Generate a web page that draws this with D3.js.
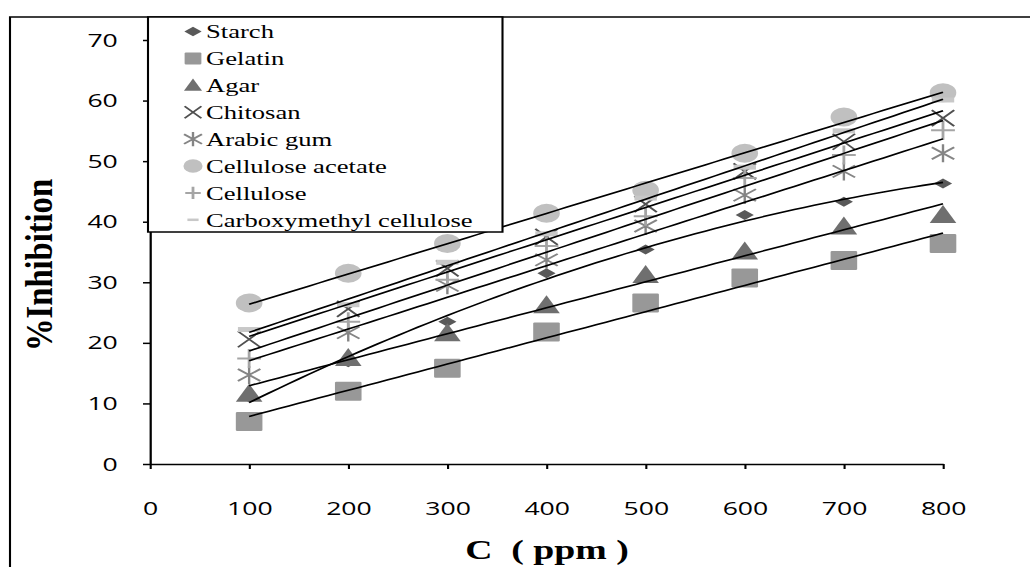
<!DOCTYPE html>
<html>
<head>
<meta charset="utf-8">
<script src="https://cdn.jsdelivr.net/npm/d3@7"></script>
<style>
  html, body { margin: 0; padding: 0; background: #fff; }
  svg { display: block; }
</style>
</head>
<body>
<svg id="chart" width="1030" height="567"></svg>
<script>
// values
const concentrations = [100, 200, 300, 400, 500, 600, 700, 800];
const starch = [11.0, 16.8, 23.5, 31.5, 35.4, 41.1, 43.3, 46.3];
const gelatin = [7.0, 12.0, 15.8, 21.8, 26.6, 30.7, 33.6, 36.4];
const agar = [11.6, 17.5, 21.6, 26.2, 31.2, 35.1, 39.2, 41.1];
const chitosan = [20.6, 25.6, 32.3, 37.5, 42.9, 48.3, 53.2, 57.1];
const arabicGum = [14.7, 21.7, 29.5, 33.7, 39.3, 44.4, 48.3, 51.3];
const celluloseAcetate = [26.6, 31.5, 36.4, 41.4, 45.2, 51.3, 57.3, 61.3];
const cellulose = [17.4, 23.5, 30.4, 36.0, 40.9, 47.2, 51.0, 55.1];
const carboxymethyl = [22.2, 26.3, 33.3, 38.0, 43.9, 49.0, 55.0, 60.1];

const seriesNames = ['Starch', 'Gelatin', 'Agar', 'Chitosan', 'Arabic gum',
  'Cellulose acetate', 'Cellulose', 'Carboxymethyl cellulose'];
const xTicks = [0, 100, 200, 300, 400, 500, 600, 700, 800];
const yTicks = [0, 10, 20, 30, 40, 50, 60, 70];

// the picture is stretched sideways, so draw in a narrower box and stretch it
const stretch = 1.4;
const W = 1030 / stretch, H = 567;

const svg = d3.select('#chart')
  .attr('viewBox', `0 0 ${W} ${H}`)
  .attr('preserveAspectRatio', 'none');

const x = d3.scaleLinear().domain([0, 800]).range([150 / stretch, 943 / stretch]);
const y = d3.scaleLinear().domain([0, 70]).range([464, 40]);

// marker shapes, centred on 0,0
const markers = {
  diamond: (g, k) => g.append('path').attr('d', `M0,${-5 * k}L${6.5 * k},0L0,${5 * k}L${-6.5 * k},0Z`).attr('fill', '#595959'),
  square: (g, k) => g.append('rect').attr('x', -9.5 * k).attr('y', -9.5 * k).attr('width', 19 * k).attr('height', 19 * k).attr('rx', 1).attr('fill', '#989898'),
  triangle: (g, k) => g.append('path').attr('d', `M0,${-10 * k}L${9.5 * k},${8 * k}L${-9.5 * k},${8 * k}Z`).attr('fill', '#6f6f6f'),
  cross: (g, k) => g.append('path').attr('d', `M${-8 * k},${-8 * k}L${8 * k},${8 * k}M${8 * k},${-8 * k}L${-8 * k},${8 * k}`)
    .attr('stroke', '#505050').attr('stroke-width', 1.6).attr('fill', 'none'),
  star: (g, k) => g.append('path').attr('d', `M${-8 * k},${-6 * k}L${8 * k},${6 * k}M${8 * k},${-6 * k}L${-8 * k},${6 * k}M0,${-9 * k}L0,${9 * k}`)
    .attr('stroke', '#858585').attr('stroke-width', 1.7).attr('fill', 'none'),
  circle: (g, k) => g.append('circle').attr('r', 9.5 * k).attr('fill', '#c0c0c0'),
  plus: (g, k) => g.append('path').attr('d', `M${-8.5 * k},0L${8.5 * k},0M0,${-9.5 * k}L0,${9.5 * k}`)
    .attr('stroke', '#a5a5a5').attr('stroke-width', 2).attr('fill', 'none'),
  dash: (g, k) => g.append('rect').attr('x', -8 * k).attr('y', -2.5 * k).attr('width', 16 * k).attr('height', 5 * k).attr('fill', '#c8c8c8')
};
// legend keys are drawn smaller than the plotted markers
const legendScale = { diamond: 0.95, square: 0.63, triangle: 0.68, cross: 0.75, star: 0.8, circle: 0.72, plus: 0.65, dash: 0.5 };

const series = [
  { name: seriesNames[0], values: starch, marker: 'diamond', fit: 'poly' },
  { name: seriesNames[1], values: gelatin, marker: 'square', fit: 'linear' },
  { name: seriesNames[2], values: agar, marker: 'triangle', fit: 'linear' },
  { name: seriesNames[3], values: chitosan, marker: 'cross', fit: 'linear' },
  { name: seriesNames[4], values: arabicGum, marker: 'star', fit: 'linear' },
  { name: seriesNames[5], values: celluloseAcetate, marker: 'circle', fit: 'linear' },
  { name: seriesNames[6], values: cellulose, marker: 'plus', fit: 'linear' },
  { name: seriesNames[7], values: carboxymethyl, marker: 'dash', fit: 'linear' }
];

// outer chart border (runs off the right and bottom of the window)
svg.append('path')
  .attr('d', `M${10 / stretch},${H + 5}V17H${W + 5}`)
  .attr('fill', 'none').attr('stroke', '#000').attr('stroke-width', 1.5);

// axes
const xAxis = svg.append('g')
  .attr('transform', `translate(0,${y(0)})`)
  .call(d3.axisBottom(x).tickValues(xTicks).tickSizeInner(5).tickSizeOuter(0).tickPadding(33));
const yAxis = svg.append('g')
  .attr('transform', `translate(${x(0)},0)`)
  .call(d3.axisLeft(y).tickValues(yTicks).tickSizeInner(7 / stretch).tickSizeOuter(0).tickPadding(18));

[xAxis, yAxis].forEach(a => {
  a.selectAll('text').attr('font-family', '"Open Sans", sans-serif').attr('font-size', 19).attr('fill', '#000');
  a.selectAll('line').attr('stroke', '#000').attr('stroke-width', 1.5);
  a.select('.domain').attr('stroke', '#000').attr('stroke-width', 1.6);
});

// markers
const plot = svg.append('g');
series.forEach(s => {
  plot.append('g').selectAll('g')
    .data(concentrations.map((c, i) => ({ c: c, v: s.values[i] })))
    .join('g')
    .attr('transform', d => `translate(${x(d.c)},${y(d.v)})`)
    .each(function () { markers[s.marker](d3.select(this), 1); });
});

// trendlines: least squares fits of each series
function linearFit(xs, ys) {
  const mx = d3.mean(xs), my = d3.mean(ys);
  const b = d3.sum(xs, (v, i) => (v - mx) * (ys[i] - my)) / d3.sum(xs, v => (v - mx) * (v - mx));
  return t => my + b * (t - mx);
}
function quadFit(xs, ys) {
  // normal equations for y = a + b t + c t^2 (t scaled to keep numbers small)
  const ts = xs.map(v => v / 100);
  const s = p => d3.sum(ts, t => Math.pow(t, p));
  const sy = p => d3.sum(ts, (t, i) => Math.pow(t, p) * ys[i]);
  const m = [[s(0), s(1), s(2), sy(0)], [s(1), s(2), s(3), sy(1)], [s(2), s(3), s(4), sy(2)]];
  for (let i = 0; i < 3; i++) {
    for (let j = i + 1; j < 3; j++) {
      const f = m[j][i] / m[i][i];
      for (let k = i; k < 4; k++) m[j][k] -= f * m[i][k];
    }
  }
  const c = m[2][3] / m[2][2];
  const b = (m[1][3] - m[1][2] * c) / m[1][1];
  const a = (m[0][3] - m[0][1] * b - m[0][2] * c) / m[0][0];
  return t => a + b * (t / 100) + c * (t / 100) * (t / 100);
}

const trendX = d3.range(100, 801, 10);
const line = d3.line().x(d => x(d[0])).y(d => y(d[1]));
series.forEach(s => {
  const f = s.fit === 'poly' ? quadFit(concentrations, s.values) : linearFit(concentrations, s.values);
  svg.append('path')
    .attr('d', line(trendX.map(t => [t, f(t)])))
    .attr('fill', 'none').attr('stroke', '#000').attr('stroke-width', 1.6);
});

// axis titles
svg.append('text')
  .attr('x', 547 / stretch).attr('y', 559)
  .attr('text-anchor', 'middle')
  .attr('font-family', '"Liberation Serif", "Times New Roman", serif')
  .attr('font-weight', 'bold').attr('font-size', 27)
  .style('white-space', 'pre')
  .text('C  ( ppm )');

svg.append('text')
  .attr('transform', `translate(${52 / stretch},265) rotate(-90)`)
  .attr('text-anchor', 'middle')
  .attr('font-family', '"Liberation Serif", "Times New Roman", serif')
  .attr('font-weight', 'bold').attr('font-size', 27)
  .attr('textLength', 172).attr('lengthAdjust', 'spacingAndGlyphs')
  .text('%Inhibition');

// legend
const legend = svg.append('g');
legend.append('rect')
  .attr('x', 148 / stretch).attr('y', 17)
  .attr('width', (502.5 - 148) / stretch).attr('height', 232 - 17)
  .attr('fill', '#fff').attr('stroke', '#000').attr('stroke-width', 1.5);

const rows = legend.selectAll('g.row')
  .data(series)
  .join('g')
  .attr('class', 'row')
  .attr('transform', (d, i) => `translate(0,${31.5 + i * 26.9})`);
rows.each(function (d) {
  const m = d3.select(this).append('g').attr('transform', `translate(${193 / stretch},0)`);
  markers[d.marker](m, legendScale[d.marker]);
});
rows.append('text')
  .attr('x', 206 / stretch).attr('y', 6.8)
  .attr('font-family', '"Liberation Serif", "Times New Roman", serif')
  .attr('font-size', 19).attr('fill', '#000')
  .text(d => d.name);
</script>
</body>
</html>
